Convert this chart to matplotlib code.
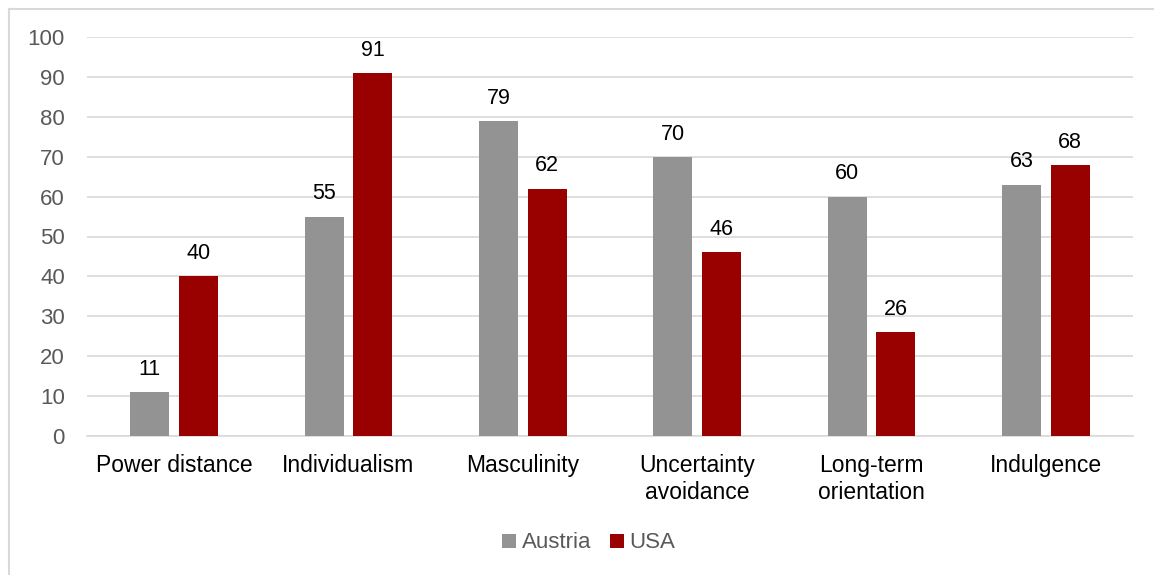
import matplotlib
matplotlib.use("Agg")
import matplotlib.pyplot as plt
from matplotlib.lines import Line2D
import numpy as np

plt.rcParams['font.family'] = ['Liberation Sans', 'DejaVu Sans']

dimensions = ['Power distance', 'Individualism', 'Masculinity',
              'Uncertainty\navoidance', 'Long-term\norientation', 'Indulgence']
austria = [11, 55, 79, 70, 60, 63]
usa = [40, 91, 62, 46, 26, 68]

grey = '#939393'
red = '#990000'

fig = plt.figure(figsize=(11.54, 5.75), dpi=100)
ax = fig.add_axes([87/1154, 1 - 436/575, (1133 - 87)/1154, (436 - 37)/575])

# chart frame (only top and left edges fall inside the image)
fx, fy = 8.5/1154, 1 - 8.5/575
fig.lines.append(Line2D([fx, fx], [0, fy], transform=fig.transFigure,
                        color='#d9d9d9', linewidth=1.5))
fig.lines.append(Line2D([fx, 1], [fy, fy], transform=fig.transFigure,
                        color='#d9d9d9', linewidth=1.5))

x = np.arange(len(dimensions))
w = 0.224
off = 0.14
b1 = ax.bar(x - off, austria, w, color=grey, label='Austria', zorder=3)
b2 = ax.bar(x + off, usa, w, color=red, label='USA', zorder=3)

for bars, vals in ((b1, austria), (b2, usa)):
    for bar, v in zip(bars, vals):
        ax.text(bar.get_x() + bar.get_width() / 2, v + 4.3, str(v),
                ha='center', va='baseline', fontsize=15.5, color='#000000')

ax.set_xlim(-0.5, len(dimensions) - 0.5)
ax.set_ylim(0, 100)
ax.set_yticks(range(0, 101, 10))
ax.yaxis.grid(True, color='#d9d9d9', linewidth=1.2, zorder=0)
ax.set_axisbelow(True)
for s in ['top', 'right', 'left']:
    ax.spines[s].set_visible(False)
ax.spines['bottom'].set_color('#d9d9d9')
ax.spines['bottom'].set_linewidth(1.2)
ax.tick_params(axis='y', length=0, labelsize=16, labelcolor='#595959', pad=16)
ax.tick_params(axis='x', length=0, labelsize=16.5, labelcolor='#000000', pad=13)
ax.set_xticks(x)
ax.set_xticklabels(dimensions, linespacing=1.2)

fig.legend(handles=[b1, b2], labels=['Austria', 'USA'], loc='center',
           bbox_to_anchor=(589/1154, 1 - 543/575), ncol=2, frameon=False,
           fontsize=16, handlelength=0.6, handleheight=0.6,
           handletextpad=0.27, columnspacing=0.86, labelcolor='#595959')

fig.savefig('out.png', dpi=100)
